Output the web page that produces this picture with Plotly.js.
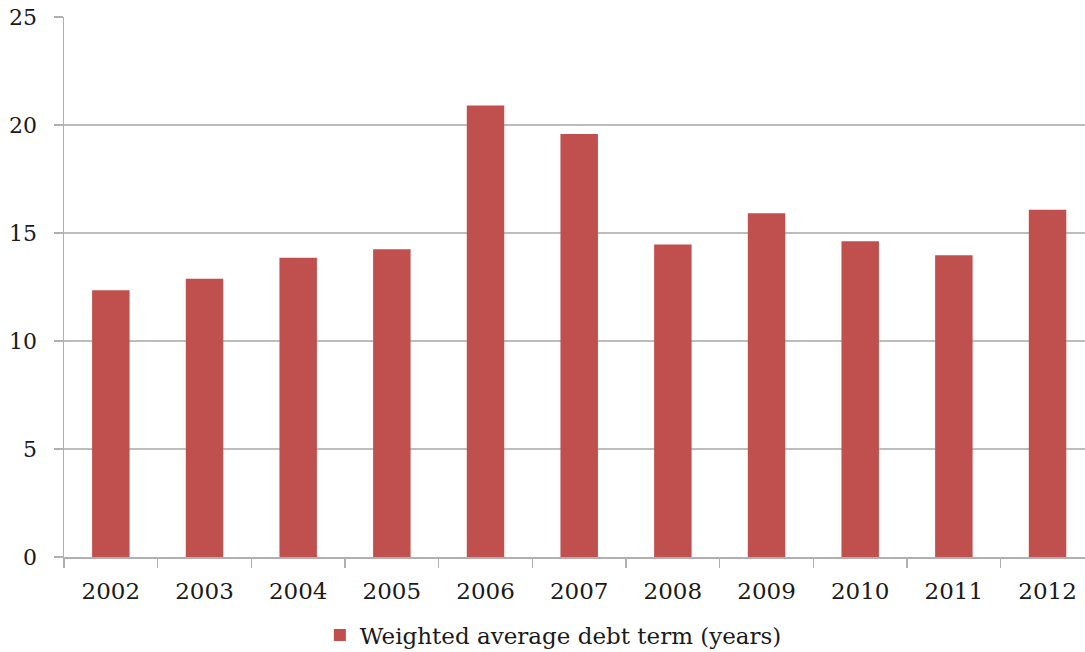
<!DOCTYPE html>
<html>
<head>
<meta charset="utf-8">
<script src="https://cdn.plot.ly/plotly-3.0.1.min.js"></script>
<style>html,body{margin:0;padding:0;background:#fff;}#chart{width:1085px;height:652px;}</style>
</head>
<body>
<div id="chart"></div>
<script>
const years = ["2002","2003","2004","2005","2006","2007","2008","2009","2010","2011","2012"];
const debtTerm = [12.35, 12.88, 13.85, 14.25, 20.9, 19.58, 14.47, 15.92, 14.62, 13.97, 16.08];
const seriesName = "Weighted average debt term (years)";
const yTicks = [0, 5, 10, 15, 20, 25];

const fontFam = "DejaVu Serif, Liberation Serif, serif";
const trace = {
  type: "bar",
  x: years,
  y: debtTerm,
  name: seriesName,
  marker: {color: "#C0504D"},
  showlegend: true
};
const layout = {
  width: 1085, height: 652,
  margin: {l: 64, r: 0, t: 17, b: 95},
  paper_bgcolor: "#fff", plot_bgcolor: "#fff",
  bargap: 0.6,
  font: {family: fontFam, size: 20, color: "#1a1a1a"},
  showlegend: true,
  legend: {orientation: "h", xref: "container", x: 0.51, xanchor: "center",
           yref: "container", y: 0.026, yanchor: "middle",
           font: {family: fontFam, size: 23, color: "#1a1a1a"}, itemwidth: 30},
  xaxis: {
    type: "category", range: [-0.5, 10.4], automargin: false,
    showline: true, linecolor: "#b0b0b0", linewidth: 1.5,
    ticks: "outside", ticklen: 9, tickcolor: "#b0b0b0", tickwidth: 1.5,
    tickson: "boundaries", showgrid: false,
    ticklabelstandoff: 13,
    tickfont: {family: fontFam, size: 23, color: "#1a1a1a"}
  },
  yaxis: {
    range: [0, 25], tickvals: yTicks, ticktext: yTicks.map(String), automargin: false,
    showline: true, linecolor: "#b0b0b0", linewidth: 1.5,
    ticks: "outside", ticklen: 9, tickcolor: "#b0b0b0", tickwidth: 1.5,
    showgrid: true, gridcolor: "#bdbdbd", gridwidth: 1.5, zeroline: false,
    ticklabelstandoff: 12,
    tickfont: {family: fontFam, size: 22, color: "#1a1a1a"}
  }
};
Plotly.newPlot("chart", [trace], layout, {displayModeBar: false, staticPlot: true});
</script>
</body>
</html>
